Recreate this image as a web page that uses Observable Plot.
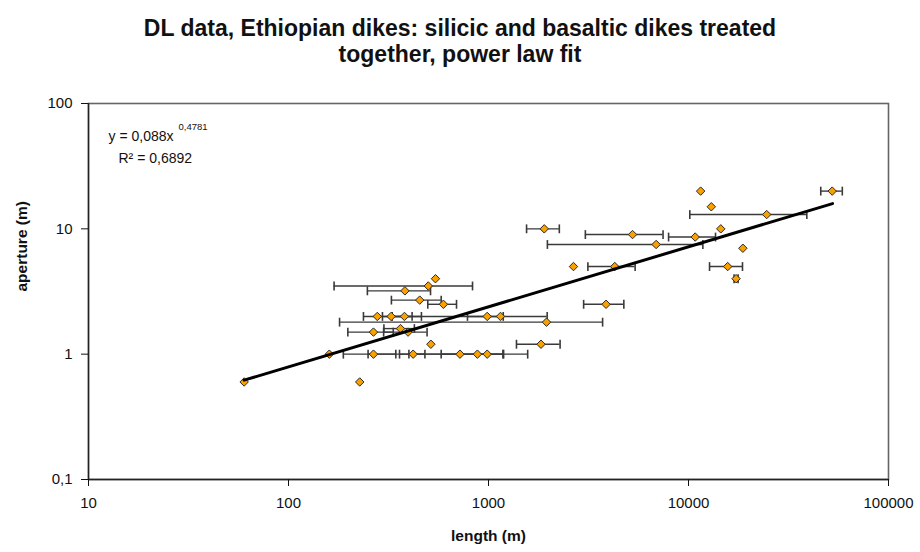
<!DOCTYPE html>
<html>
<head>
<meta charset="utf-8">
<script src="https://cdn.jsdelivr.net/npm/d3@7"></script>
<script src="https://cdn.jsdelivr.net/npm/@observablehq/plot@0.6"></script>
<style>
  html, body { margin: 0; padding: 0; background: #fff; }
  #wrap { width: 920px; height: 552px; font-family: "Liberation Sans", Arial, sans-serif; }
  #title { height: 70px; box-sizing: border-box; padding-top: 15px; text-align: center;
           font-weight: bold; font-size: 23px; line-height: 26px; color: #111; }
</style>
</head>
<body>
<div id="wrap">
  <div id="title">DL data, Ethiopian dikes: silicic and basaltic dikes treated<br>together, power law fit</div>
  <div id="chart"></div>
</div>
<script>
// Dike length (m), aperture (m), length error bar ends (null = no bar)
const lengths   = [60, 227, 160, 266, 420, 720, 880, 985, 515, 1830, 266, 396, 363, 1950, 278, 326, 380, 985, 1148, 595, 3870, 453, 382, 500, 543, 2660, 4280, 1900, 5250, 6890, 10800, 24600, 11500, 13000, 14500, 18700, 15700, 17300, 52300];
const apertures = [0.6, 0.6, 1, 1, 1, 1, 1, 1, 1.2, 1.2, 1.5, 1.5, 1.6, 1.8, 2, 2, 2, 2, 2, 2.5, 2.5, 2.7, 3.2, 3.5, 4, 5, 5, 10, 9, 7.5, 8.6, 13, 20, 15, 10, 7, 5, 4, 20];
const lengthLow  = [null, null, null, 188, 359, 250, 580, 400, null, 1380, 198, 299, 300, 180, null, 237, 295, 785, 330, 497, 2990, 327, 248, 169, null, null, 3140, 1550, 3050, 1970, 7950, 10150, null, null, null, null, 12740, 16900, 45850];
const lengthHigh = [null, null, null, 344, 481, 1190, 1180, 1570, null, 2280, 334, 493, 426, 3720, null, 415, 462, 1185, 1965, 692, 4750, 580, 513, 832, null, null, 5410, 2260, 7460, 11800, 13650, 39050, null, null, null, null, 18620, 17700, 58750];

// Power law fit y = 0,088 x^0,4781 (straight on log-log): end points
const trendX = [60, 52500];
const trendY = [0.62, 15.9];

const xTicks = [10, 100, 1000, 10000, 100000];
const xTickLabels = ["10", "100", "1000", "10000", "100000"];
const yTicks = [0.1, 1, 10, 100];
const yTickLabels = ["0,1", "1", "10", "100"];

const points = lengths.map((x, i) => ({x, y: apertures[i], lo: lengthLow[i], hi: lengthHigh[i]}));
const bars = points.filter(d => d.lo != null);
const caps = bars.flatMap(d => [{x: d.lo, y: d.y}, {x: d.hi, y: d.y}]);
const trend = trendX.map((x, i) => ({x, y: trendY[i]}));

const capSymbol = {
  draw(ctx, size) {
    const h = Math.sqrt(size) * 0.5;
    ctx.moveTo(0, -h);
    ctx.lineTo(0, h);
  }
};

const font = "Liberation Sans, Arial, sans-serif";

const chart = Plot.plot({
  width: 920,
  height: 482,
  marginTop: 33,
  marginBottom: 73,
  marginLeft: 88,
  marginRight: 32,
  style: {fontFamily: font, fontSize: "15px", color: "#111", background: "#fff", overflow: "visible"},
  x: {type: "log", domain: [10, 100000]},
  y: {type: "log", domain: [0.1, 100]},
  marks: [
    Plot.frame({stroke: "#666", strokeWidth: 1.6}),
    Plot.ruleX([10], {stroke: "#222", strokeWidth: 1.4}),
    Plot.ruleY([0.1], {stroke: "#222", strokeWidth: 1.4}),
    Plot.axisX({ticks: xTicks, tickFormat: (d) => xTickLabels[xTicks.indexOf(d)], tickSize: 7, tickPadding: 11, label: null, fontSize: 15}),
    Plot.axisY({ticks: yTicks, tickFormat: (d) => yTickLabels[yTicks.indexOf(d)], tickSize: 7, tickPadding: 9, label: null, fontSize: 15}),
    Plot.ruleY(bars, {x1: "lo", x2: "hi", y: "y", stroke: "#3a3a3a", strokeWidth: 1.4}),
    Plot.dot(caps, {x: "x", y: "y", symbol: capSymbol, r: 5, stroke: "#3a3a3a", strokeWidth: 1.6}),
    Plot.dot(points, {x: "x", y: "y", symbol: "diamond2", r: 3.8, fill: "#f9a100", stroke: "#2a2a2a", strokeWidth: 1}),
    Plot.line(trend, {x: "x", y: "y", stroke: "#000", strokeWidth: 3}),
    Plot.text(["y = 0,088x"], {frameAnchor: "top-left", dx: 20, dy: 28, textAnchor: "start", fontSize: 14, fill: "#111"}),
    Plot.text(["0,4781"], {frameAnchor: "top-left", dx: 90, dy: 20, textAnchor: "start", fontSize: 9.5, fill: "#111"}),
    Plot.text(["R² = 0,6892"], {frameAnchor: "top-left", dx: 30, dy: 50, textAnchor: "start", fontSize: 14, fill: "#111"}),
    Plot.text(["length (m)"], {frameAnchor: "bottom", dy: 61, fontSize: 15.5, fontWeight: "bold", fill: "#111"}),
    Plot.text(["aperture (m)"], {frameAnchor: "left", dx: -66, rotate: -90, fontSize: 15.5, fontWeight: "bold", fill: "#111"})
  ]
});
document.getElementById("chart").appendChild(chart);
</script>
</body>
</html>
